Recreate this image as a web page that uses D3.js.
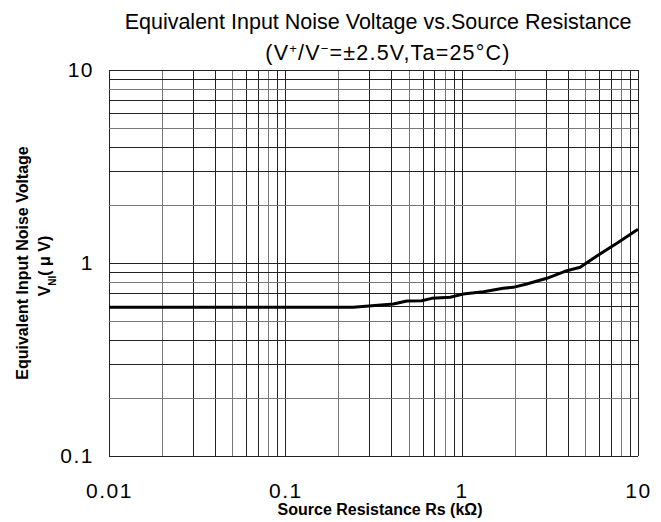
<!DOCTYPE html>
<html>
<head>
<meta charset="utf-8">
<script src="https://cdn.jsdelivr.net/npm/d3@7"></script>
<style>
  body { margin: 0; background: #fff; }
  text { font-family: "Liberation Sans", Arial, sans-serif; fill: #000; }
</style>
</head>
<body>
<div id="chart"></div>
<script>
// values
const rs = [0.01, 0.1, 0.243, 0.41, 0.489, 0.594, 0.676, 0.86, 1.02, 1.33, 1.72, 1.96, 2.34, 3.04, 3.95, 4.70, 5.84, 7.59, 10];
const vn = [0.59, 0.59, 0.59, 0.613, 0.636, 0.638, 0.656, 0.664, 0.69, 0.71, 0.74, 0.748, 0.778, 0.833, 0.912, 0.95, 1.087, 1.265, 1.495];
const xTicks = [0.01, 0.1, 1, 10];
const xTickLabels = ["0.01", "0.1", "1", "10"];
const yTicks = [0.1, 1, 10];
const yTickLabels = ["0.1", "1", "10"];

const width = 661, height = 522;
const margin = {top: 70, right: 23, bottom: 66, left: 109};
const w = width - margin.left - margin.right,
      h = height - margin.top - margin.bottom;

const svg = d3.select("#chart").append("svg").attr("width", width).attr("height", height);
const g = svg.append("g").attr("transform", `translate(${margin.left},${margin.top})`);

const x = d3.scaleLog().domain([0.01, 10]).range([0, w]);
const y = d3.scaleLog().domain([0.1, 10]).range([h, 0]);

// grid lines at 1..9 of each decade
const gx = x.ticks();
const gy = y.ticks();
g.selectAll(".vgrid").data(gx).enter().append("line")
  .attr("x1", d => Math.round(x(d)) + 0.5).attr("x2", d => Math.round(x(d)) + 0.5)
  .attr("y1", 0).attr("y2", h)
  .attr("stroke", (d, i) => i % 3 == 1 ? "#777" : "#222").attr("stroke-width", 1);
g.selectAll(".hgrid").data(gy).enter().append("line")
  .attr("y1", d => Math.round(y(d)) + 0.5).attr("y2", d => Math.round(y(d)) + 0.5)
  .attr("x1", 0).attr("x2", w)
  .attr("stroke", (d, i) => i % 3 == 1 ? "#777" : "#222").attr("stroke-width", 1);

// axes labels only, no ticks
const xAxis = g.append("g").attr("transform", `translate(0,${h})`)
  .call(d3.axisBottom(x).tickValues(xTicks).tickSize(0).tickPadding(27)
    .tickFormat((d, i) => xTickLabels[i]));
xAxis.select(".domain").remove();
xAxis.selectAll("text").style("font-size", "21px").style("letter-spacing", "1.5px").attr("fill", "#000");

const yAxis = g.append("g")
  .call(d3.axisLeft(y).tickValues(yTicks).tickSize(0).tickPadding(15)
    .tickFormat((d, i) => yTickLabels[i]));
yAxis.select(".domain").remove();
yAxis.selectAll("text").style("font-size", "21px").style("letter-spacing", "1.5px").attr("fill", "#000");

// curve
const line = d3.line().x(d => x(d[0])).y(d => y(d[1]));
g.append("path").datum(rs.map((d, i) => [d, vn[i]]))
  .attr("d", line).attr("fill", "none").attr("stroke", "#000")
  .attr("stroke-width", 3).attr("stroke-linejoin", "round");

// titles
svg.append("text").attr("x", 378).attr("y", 29).attr("text-anchor", "middle")
  .style("font-size", "21.5px").text("Equivalent Input Noise Voltage vs.Source Resistance");
const sub = svg.append("text").attr("x", 388).attr("y", 60).attr("text-anchor", "middle")
  .style("font-size", "21.5px").style("letter-spacing", "1.2px");
sub.append("tspan").text("(V");
sub.append("tspan").attr("baseline-shift", "super").style("font-size", "13px").text("+");
sub.append("tspan").text("/V");
sub.append("tspan").attr("baseline-shift", "super").style("font-size", "13px").text("\u2212");
sub.append("tspan").text("=\u00b12.5V,Ta=25\u00b0C)");

svg.append("text").attr("x", 380).attr("y", 515).attr("text-anchor", "middle")
  .style("font-size", "16px").style("font-weight", "bold").text("Source Resistance Rs (k\u03a9)");

const yl = svg.append("text").attr("transform", "translate(28,263) rotate(-90)")
  .attr("text-anchor", "middle").style("font-size", "16px").style("font-weight", "bold");
yl.text("Equivalent Input Noise Voltage");
const yl2 = svg.append("text").attr("transform", "translate(50,266) rotate(-90)")
  .attr("text-anchor", "middle").style("font-size", "16px").style("font-weight", "bold");
yl2.append("tspan").text("V");
yl2.append("tspan").attr("baseline-shift", "sub").style("font-size", "10px").text("NI");
yl2.append("tspan").text("( \u03bc V)");
</script>
</body>
</html>
